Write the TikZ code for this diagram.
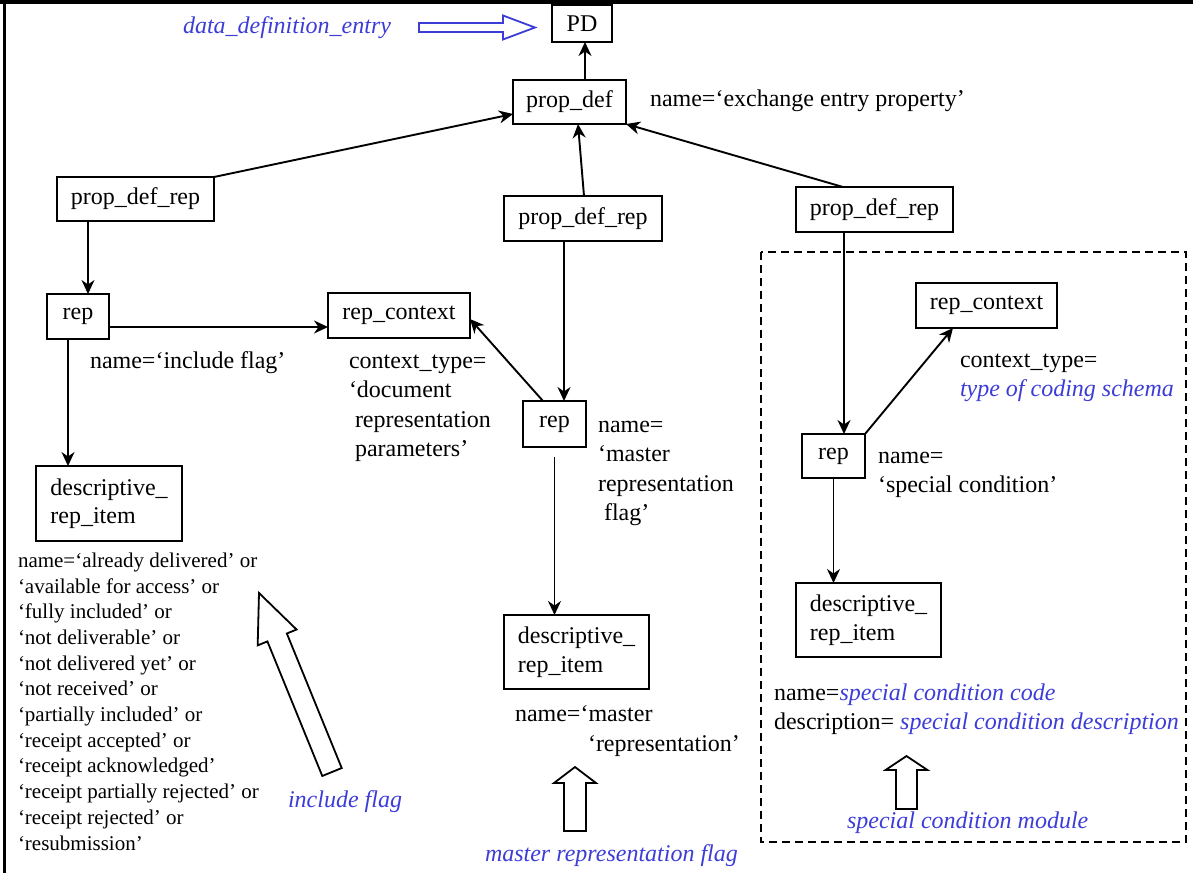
\documentclass[tikz,border=0pt]{standalone}
\usepackage{fontspec}
\setmainfont{Liberation Serif}
\usetikzlibrary{arrows.meta,calc}
\definecolor{noteblue}{RGB}{60,60,215}

% Block arrow from tail (#2) to tip (#3): shaft half width #4,
% head half width #5, head length #6; #1 = drawing style.
\newcommand{\hollowarrow}[6]{%
  \coordinate (haB) at ($(#3)!#6!(#2)$);
  \draw[#1] ($(#2)!#4!90:(#3)$) -- ($(haB)!#4!90:(#3)$) -- ($(haB)!#5!90:(#3)$)
    -- (#3) -- ($(haB)!#5!-90:(#3)$) -- ($(haB)!#4!-90:(#3)$) -- ($(#2)!#4!-90:(#3)$) -- cycle;}

\begin{document}
\begin{tikzpicture}[x=1pt,y=-1pt,
  box/.style={draw, line width=1.9pt, inner sep=0pt, outer sep=0pt, align=left,
    font=\fontsize{24}{28.5}\selectfont},
  % multi-line notes are placed by the baseline of their last line
  note/.style={anchor=base west, inner sep=0pt, outer sep=0pt, align=left,
    font=\fontsize{24}{29.5}\selectfont},
  listnote/.style={note, font=\fontsize{21}{25.7}\selectfont},
  bluenote/.style={note, text=noteblue, font=\fontsize{24}{29.5}\selectfont\itshape},
  link/.style={draw, line width=1.9pt, -{Stealth[length=14pt,width=13pt,inset=4.5pt]}},
  blockarrow/.style={draw, line width=1.8pt, fill=white, line join=miter},
  module/.style={draw, line width=2.4pt, dash pattern=on 8pt off 5pt}]

\useasboundingbox (0,0) rectangle (1193,873);

% frame along the top and left edges
\draw[line width=3.5pt] (0,1.75) -- (1193,1.75);
\draw[line width=2.7pt] (4.6,0) -- (4.6,873);

% entity boxes
\node[box, minimum width=60pt,  minimum height=37pt] (pd)   at (582,23.5)  {PD};
\node[box, minimum width=113pt, minimum height=44pt] (pdef) at (569.5,102)  {prop\_def};
\node[box, minimum width=157pt, minimum height=44pt] (lpdr) at (135.5,199)  {prop\_def\_rep};
\node[box, minimum width=158pt, minimum height=45pt] (mpdr) at (583,218.5)  {prop\_def\_rep};
\node[box, minimum width=157pt, minimum height=45pt] (rpdr) at (874.5,209.5){prop\_def\_rep};
\node[box, minimum width=62pt,  minimum height=45pt] (lrep) at (78,316.5)   {rep};
\node[box, minimum width=142pt, minimum height=45pt] (mrc)  at (399,315.5)  {rep\_context};
\node[box, minimum width=63pt,  minimum height=46pt] (mrep) at (554.5,424)  {rep};
\node[box, minimum width=146pt, minimum height=75pt] (ldri) at (109,503.5)  {descriptive\_\\rep\_item};
\node[box, minimum width=145pt, minimum height=74pt] (mdri) at (576.5,652)  {descriptive\_\\rep\_item};
\node[box, minimum width=141pt, minimum height=45pt] (rrc)  at (986.5,305.5){rep\_context};
\node[box, minimum width=63pt,  minimum height=44pt] (rrep) at (833.5,456)  {rep};
\node[box, minimum width=145pt, minimum height=74pt] (rdri) at (868.5,620)  {descriptive\_\\rep\_item};

% special condition module
\draw[module] (761,252) rectangle (1186,842);

% relationships
\draw[link] ([xshift=15.5pt]pdef.north) -- ([xshift=3pt]pd.south);
\draw[link] (lpdr.north east) -- ([yshift=-12pt]pdef.west);
\draw[link] ([xshift=1pt]mpdr.north) -- ([xshift=8.5pt]pdef.south);
\draw[link] ([xshift=-31.5pt]rpdr.north) -- (pdef.south east);
\draw[link] ([xshift=10pt]lrep.north |- lpdr.south) -- ([xshift=10pt]lrep.north);
\draw[link] ([yshift=-10.5pt]lrep.east) -- ([yshift=-11.5pt]mrc.west);
\draw[link] ([xshift=-10pt]lrep.south) -- ([xshift=-10pt]lrep.south |- ldri.north);
\draw[link] ([xshift=9.5pt]mrep.north |- mpdr.south) -- ([xshift=9.5pt]mrep.north);
\draw[link] ([xshift=-11.5pt]mrep.north) -- ([yshift=-3.5pt]mrc.east);
\draw[link, shorten <=10pt] (mrep.south) -- (mrep.south |- mdri.north);
\draw[link] ([xshift=10.5pt]rrep.north |- rpdr.south) -- ([xshift=10.5pt]rrep.north);
\draw[link] (rrep.north east) -- ([xshift=-33.5pt]rrc.south);
\draw[link] (rrep.south) -- (rrep.south |- rdri.north);

% attribute texts
\node[bluenote] (dde) at (183,33) {data\_definition\_entry};
\node[note] (pdefname) at (650,106) {name=‘exchange entry property’};
\node[note] (lrepname) at (90,368) {name=‘include flag’};
\node[note] (mrcname) at (349,456.5)
  {context\_type=\\‘document\\\hspace*{6pt}representation\\\hspace*{6pt}parameters’};
\node[note] (mrepname) at (598,520.5)
  {name=\\‘master\\representation\\\hspace*{6pt}flag’};
\node[listnote] (ldriname) at (18,850)
  {name=‘already delivered’ or\\‘available for access’ or\\‘fully included’ or\\%
   ‘not deliverable’ or\\‘not delivered yet’ or\\‘not received’ or\\%
   ‘partially included’ or\\‘receipt accepted’ or\\‘receipt acknowledged’\\%
   ‘receipt partially rejected’ or\\‘receipt rejected’ or\\‘resubmission’};
\node[note] (mdriname) at (515,751) {name=‘master\\\hspace*{73pt}‘representation’};
\node[note] (rrcname) at (960,396.5)
  {context\_type=\\{\color{noteblue}\itshape type of coding schema}};
\node[note] (rrepname) at (878,492.5) {name=\\‘special condition’};
\node[note] (rdriname) at (774,729.5)
  {name={\color{noteblue}\itshape special condition code}\\%
   description= {\color{noteblue}\itshape special condition description}};

% captions of the marked groups
\node[bluenote] (incl) at (288,807) {include flag};
\node[bluenote] (mrf) at (485,861) {master representation flag};
\node[bluenote] (scm) at (847,828) {special condition module};

% block arrows pointing at the groups
\coordinate (ddeTail) at (419,27.5);  \coordinate (ddeTip) at (535,27.5);
\coordinate (inclTail) at (332,772);  \coordinate (inclTip) at (259,593);
\coordinate (mrfTail) at (575,831);   \coordinate (mrfTip) at (575,767);
\coordinate (scmTail) at (906.5,809); \coordinate (scmTip) at (906.5,756);
\hollowarrow{blockarrow, draw=noteblue}{ddeTail}{ddeTip}{4.5pt}{12pt}{32pt}
\hollowarrow{blockarrow}{inclTail}{inclTip}{10.5pt}{21pt}{48pt}
\hollowarrow{blockarrow}{mrfTail}{mrfTip}{11pt}{21pt}{16pt}
\hollowarrow{blockarrow}{scmTail}{scmTip}{10.5pt}{21pt}{14pt}

\end{tikzpicture}
\end{document}
